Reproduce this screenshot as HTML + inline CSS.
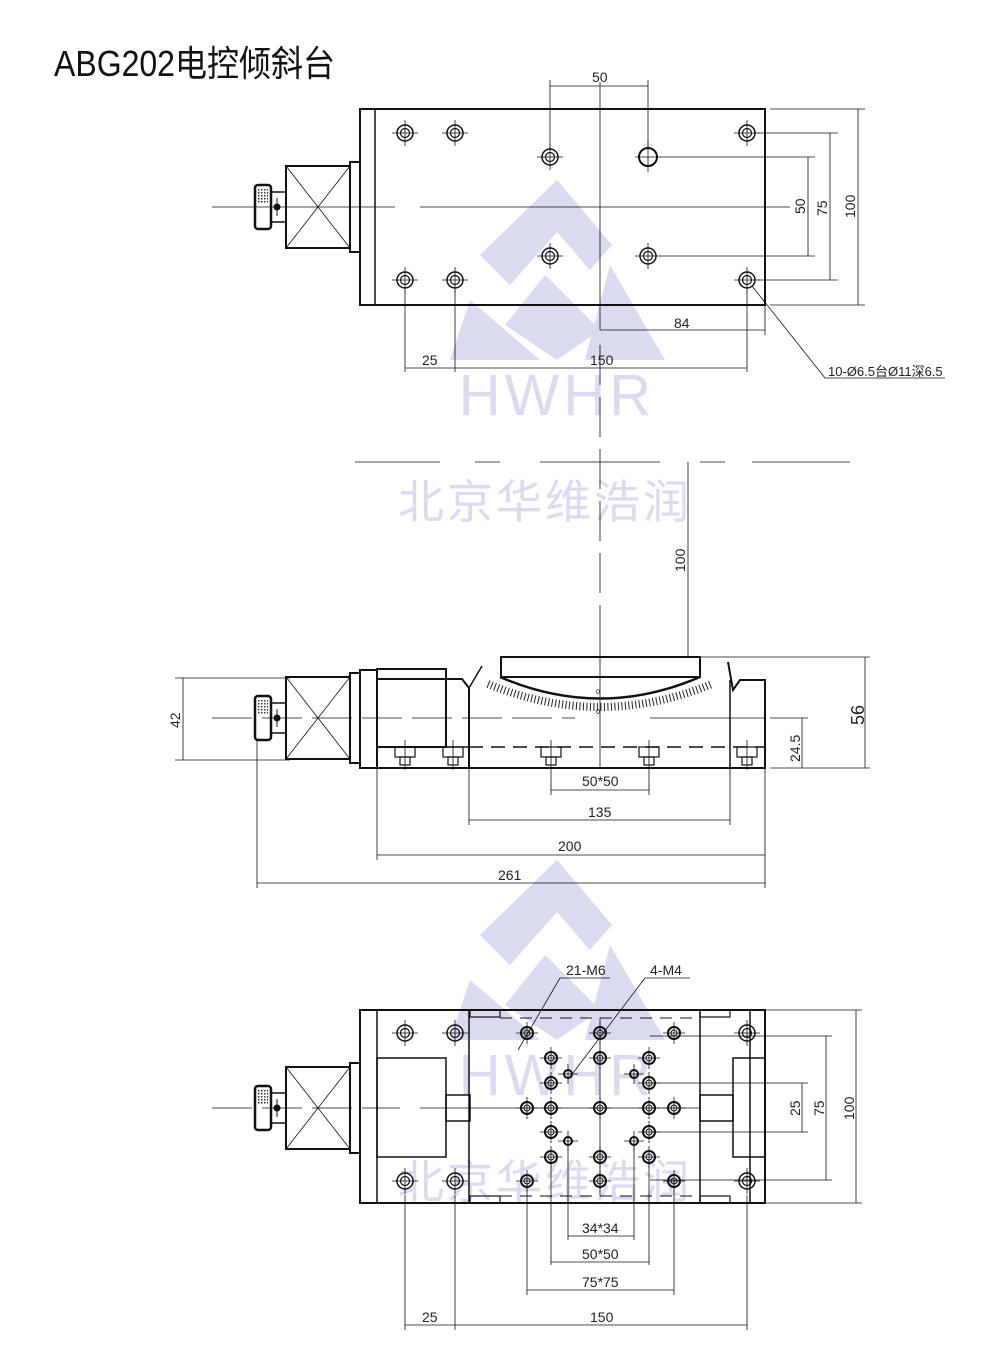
<!DOCTYPE html>
<html><head><meta charset="utf-8"><style>
html,body{margin:0;padding:0;background:#fff}
svg{display:block}
text{font-family:"Liberation Sans","Noto Sans CJK SC",sans-serif}
.d{font-family:"Liberation Sans Narrow","Liberation Sans",sans-serif;font-size:14px;fill:#222}
</style></head><body>
<svg width="1000" height="1352" viewBox="0 0 1000 1352" xmlns="http://www.w3.org/2000/svg">
<defs>
<pattern id="kn" width="3" height="3" patternUnits="userSpaceOnUse"><rect width="3" height="3" fill="#fff"/><rect width="1.5" height="1.5" fill="#333"/></pattern>
<g id="knob" stroke="#111" fill="none">
<rect x="255" y="-22" width="16" height="44" rx="3" stroke-width="2.5"/>
<rect x="258" y="-18" width="10" height="14" fill="url(#kn)" stroke="none"/>
<rect x="271" y="-15" width="15" height="30" stroke-width="1.5"/>
<circle cx="277" cy="0" r="3" fill="#111"/>
<line x1="277" y1="-9" x2="277" y2="9" stroke-width="1"/>
<rect x="286" y="-41" width="64" height="82" stroke-width="2"/>
<line x1="286" y1="-41" x2="350" y2="41" stroke-width="0.8"/>
<line x1="286" y1="41" x2="350" y2="-41" stroke-width="0.8"/>
<rect x="350" y="-45" width="10" height="90" stroke-width="2"/>
</g>
<g id="ch" stroke="#111" fill="none">
<circle r="8" stroke-width="1.5"/><circle r="4.5" stroke-width="1.2"/>
<line x1="-13" y1="0" x2="13" y2="0" stroke-width="0.8"/><line x1="0" y1="-13" x2="0" y2="13" stroke-width="0.8"/>
</g>
<g id="sh" stroke="#111" fill="none">
<circle r="6" stroke-width="2"/><circle r="3" stroke-width="1"/>
<line x1="-11" y1="0" x2="11" y2="0" stroke-width="0.8"/><line x1="0" y1="-11" x2="0" y2="11" stroke-width="0.8"/>
</g>
<g id="sm" stroke="#111" fill="none">
<circle r="4" stroke-width="2"/>
<line x1="-10" y1="0" x2="10" y2="0" stroke-width="0.8"/><line x1="0" y1="-10" x2="0" y2="10" stroke-width="0.8"/>
</g>
<g id="wm" fill="#dadaf0">
<polygon points="557,180 612,245 590,270 557,232 510,285 480,255"/>
<polygon points="545,275 600,330 557,360 505,325"/>
<polygon points="610,265 665,360 585,360"/>
<polygon points="470,300 540,360 450,360"/>
<text x="557" y="415" font-size="58" text-anchor="middle" fill="#dadaf0" letter-spacing="4">HWHR</text>
<text x="545" y="518" font-size="46" text-anchor="middle" fill="#dadaf0" letter-spacing="3">北京华维浩润</text>
</g>
</defs>

<text x="54" y="76" font-size="36" fill="#111" textLength="281" lengthAdjust="spacingAndGlyphs">ABG202电控倾斜台</text>

<use href="#wm"/>
<use href="#wm" transform="translate(0,680)"/>

<!-- TOP VIEW -->
<g stroke="#111" fill="none">
<rect x="360" y="109" width="405" height="196" stroke-width="2"/>
<line x1="375" y1="109" x2="375" y2="305" stroke-width="1.5"/>
<line x1="212" y1="207" x2="395" y2="207" stroke-width="0.8"/>
<line x1="420" y1="207" x2="790" y2="207" stroke-width="0.8"/>
<line x1="600" y1="82" x2="600" y2="330" stroke-width="0.8"/>
<line x1="600" y1="345" x2="600" y2="640" stroke-width="0.8" stroke-dasharray="40,12"/>
<g stroke-width="0.8">
<line x1="550" y1="80" x2="550" y2="150"/><line x1="648" y1="80" x2="648" y2="150"/><line x1="550" y1="86" x2="648" y2="86"/>
<line x1="770" y1="109" x2="865" y2="109"/><line x1="770" y1="305" x2="865" y2="305"/><line x1="858" y1="109" x2="858" y2="305"/>
<line x1="758" y1="133" x2="838" y2="133"/><line x1="758" y1="280" x2="838" y2="280"/><line x1="830" y1="133" x2="830" y2="280"/>
<line x1="660" y1="157" x2="815" y2="157"/><line x1="660" y1="256" x2="815" y2="256"/><line x1="808" y1="157" x2="808" y2="256"/>
<line x1="600" y1="330" x2="765" y2="330"/><line x1="765" y1="305" x2="765" y2="335"/>
<line x1="405" y1="290" x2="405" y2="372"/><line x1="455" y1="290" x2="455" y2="372"/><line x1="747" y1="290" x2="747" y2="372"/>
<line x1="405" y1="368" x2="747" y2="368"/>
<polyline points="752,286 825,378 945,378"/>
</g>
</g>
<use href="#knob" transform="translate(0,207)"/>
<g>
<use href="#ch" x="405" y="133"/><use href="#ch" x="455" y="133"/><use href="#ch" x="747" y="133"/>
<use href="#ch" x="405" y="280"/><use href="#ch" x="455" y="280"/><use href="#ch" x="747" y="280"/>
<use href="#ch" x="550" y="157"/><use href="#ch" x="550" y="256"/><use href="#ch" x="648" y="256"/>
<g stroke="#111" fill="none"><circle cx="648" cy="157" r="9" stroke-width="2"/><line x1="635" y1="157" x2="661" y2="157" stroke-width="0.8"/><line x1="648" y1="140" x2="648" y2="172" stroke-width="0.8"/></g>
</g>
<g class="d">
<text x="592" y="82">50</text>
<text x="674" y="328">84</text>
<text x="422" y="365">25</text>
<text x="590" y="365">150</text>
<text x="828" y="376" font-size="13">10-Ø6.5台Ø11深6.5</text>
<text transform="translate(805,214) rotate(-90)">50</text>
<text transform="translate(827,216) rotate(-90)">75</text>
<text transform="translate(855,218) rotate(-90)">100</text>
</g>

<g stroke="#111" stroke-width="0.8">
<line x1="355" y1="462" x2="440" y2="462"/><line x1="475" y1="462" x2="500" y2="462"/><line x1="540" y1="462" x2="660" y2="462"/>
<line x1="700" y1="462" x2="725" y2="462"/><line x1="752" y1="462" x2="850" y2="462"/>
<line x1="688" y1="462" x2="688" y2="657"/>
</g>
<text class="d" transform="translate(685,572) rotate(-90)">100</text>

<!-- MIDDLE VIEW -->
<g stroke="#111" fill="none">
<line x1="212" y1="718" x2="575" y2="718" stroke-width="0.8" stroke-dasharray="40,10"/>
<line x1="650" y1="718" x2="765" y2="718" stroke-width="0.8"/>
<polyline points="360,768 765,768 765,680 740,680 733,690 728,662" stroke-width="2"/>
<rect x="360" y="670" width="17" height="98" stroke-width="2"/>
<rect x="377" y="669" width="69" height="78" stroke-width="2"/>
<polyline points="377,679 462,679 469,688 469,768" stroke-width="2"/>
<line x1="469" y1="688" x2="482" y2="666" stroke-width="1.5"/>
<line x1="377" y1="747" x2="469" y2="747" stroke-width="1.5"/>
<line x1="469" y1="747" x2="765" y2="747" stroke-width="1.5" stroke-dasharray="14,8"/>
<line x1="730" y1="680" x2="730" y2="768" stroke-width="1.5"/>
<rect x="501" y="657" width="199" height="20" stroke-width="2"/>
<path d="M500,677 Q600,720 700,677" stroke-width="2.5"/>
<path d="M488,684 Q600,730 712,684" stroke-width="8" stroke-dasharray="1,2.5" stroke="#222"/>
<line x1="600" y1="640" x2="600" y2="768" stroke-width="0.8"/>
<g stroke-width="1.2">
<rect x="395" y="747" width="20" height="10"/><rect x="400" y="757" width="10" height="8"/>
<rect x="443" y="747" width="20" height="10"/><rect x="448" y="757" width="10" height="8"/>
<rect x="541" y="747" width="20" height="10"/><rect x="546" y="757" width="10" height="8"/>
<rect x="639" y="747" width="20" height="10"/><rect x="644" y="757" width="10" height="8"/>
<rect x="737" y="747" width="20" height="10"/><rect x="742" y="757" width="10" height="8"/>
</g>
<g stroke-width="0.8">
<line x1="405" y1="740" x2="405" y2="770"/><line x1="453" y1="740" x2="453" y2="770"/><line x1="551" y1="740" x2="551" y2="795"/><line x1="649" y1="740" x2="649" y2="795"/><line x1="747" y1="740" x2="747" y2="770"/>
<line x1="551" y1="790" x2="649" y2="790"/>
<line x1="469" y1="768" x2="469" y2="825"/><line x1="730" y1="768" x2="730" y2="825"/><line x1="469" y1="820" x2="730" y2="820"/>
<line x1="377" y1="768" x2="377" y2="860"/><line x1="765" y1="768" x2="765" y2="888"/><line x1="377" y1="855" x2="765" y2="855"/>
<line x1="257" y1="740" x2="257" y2="888"/><line x1="257" y1="883" x2="765" y2="883"/>
<line x1="175" y1="678" x2="290" y2="678"/><line x1="175" y1="760" x2="290" y2="760"/><line x1="183" y1="678" x2="183" y2="760"/>
<line x1="700" y1="657" x2="870" y2="657"/><line x1="770" y1="768" x2="870" y2="768"/><line x1="865" y1="657" x2="865" y2="768"/>
<line x1="770" y1="718" x2="808" y2="718"/><line x1="802" y1="718" x2="802" y2="768"/>
</g>
</g>
<use href="#knob" transform="translate(0,718)"/>
<g class="d">
<text x="596" y="694" font-size="7">0</text><text x="596" y="714" font-size="7">0</text>
<text x="582" y="786">50*50</text>
<text x="588" y="817">135</text>
<text x="558" y="851">200</text>
<text x="498" y="880">261</text>
<text transform="translate(180,728) rotate(-90)">42</text>
<text transform="translate(800,762) rotate(-90)">24.5</text>
<text transform="translate(864,725) rotate(-90)" font-size="18">56</text>
</g>

<!-- BOTTOM VIEW -->
<g stroke="#111" fill="none">
<rect x="360" y="1010" width="405" height="193" stroke-width="2"/>
<line x1="377" y1="1010" x2="377" y2="1203" stroke-width="1.5"/>
<line x1="469" y1="1010" x2="469" y2="1203" stroke-width="1.5"/>
<line x1="700" y1="1010" x2="700" y2="1203" stroke-width="1.5"/>
<line x1="750" y1="1010" x2="750" y2="1203" stroke-width="1.5"/>
<rect x="377" y="1058" width="69" height="99" stroke-width="1.5"/>
<rect x="446" y="1095" width="24" height="26" stroke-width="1.5"/>
<rect x="733" y="1058" width="32" height="99" stroke-width="1.5"/>
<rect x="700" y="1095" width="33" height="26" stroke-width="1.5"/>
<g stroke-width="1.2">
<rect x="470" y="1010" width="30" height="7"/><rect x="700" y="1010" width="30" height="7"/>
<rect x="470" y="1196" width="30" height="7"/><rect x="700" y="1196" width="30" height="7"/>
</g>
<line x1="500" y1="1018" x2="700" y2="1018" stroke-width="1" stroke-dasharray="12,8"/>
<line x1="500" y1="1196" x2="700" y2="1196" stroke-width="1" stroke-dasharray="12,8"/>
<line x1="212" y1="1108" x2="400" y2="1108" stroke-width="0.8" stroke-dasharray="40,10"/>
<line x1="420" y1="1108" x2="700" y2="1108" stroke-width="0.8"/>
<line x1="600" y1="1018" x2="600" y2="1196" stroke-width="0.8"/>
<g stroke-width="0.8">
<line x1="760" y1="1010" x2="862" y2="1010"/><line x1="760" y1="1203" x2="862" y2="1203"/><line x1="856" y1="1010" x2="856" y2="1203"/>
<line x1="650" y1="1036" x2="832" y2="1036"/><line x1="650" y1="1180" x2="832" y2="1180"/><line x1="826" y1="1036" x2="826" y2="1180"/>
<line x1="650" y1="1083" x2="808" y2="1083"/><line x1="650" y1="1132" x2="808" y2="1132"/><line x1="802" y1="1083" x2="802" y2="1132"/>
<line x1="568" y1="1140" x2="568" y2="1240"/><line x1="634" y1="1140" x2="634" y2="1240"/><line x1="568" y1="1236" x2="634" y2="1236"/>
<line x1="551" y1="1160" x2="551" y2="1265"/><line x1="649" y1="1160" x2="649" y2="1265"/><line x1="551" y1="1262" x2="649" y2="1262"/>
<line x1="527" y1="1180" x2="527" y2="1295"/><line x1="674" y1="1180" x2="674" y2="1295"/><line x1="527" y1="1290" x2="674" y2="1290"/>
<line x1="405" y1="1195" x2="405" y2="1330"/><line x1="455" y1="1195" x2="455" y2="1330"/><line x1="747" y1="1195" x2="747" y2="1330"/>
<line x1="405" y1="1325" x2="747" y2="1325"/>
<polyline points="518,1050 560,978 610,978"/>
<polyline points="573,1073 645,978 690,978"/>
</g>
</g>
<use href="#knob" transform="translate(0,1108)"/>
<g>
<use href="#ch" x="405" y="1033"/><use href="#ch" x="455" y="1033"/><use href="#ch" x="747" y="1033"/>
<use href="#ch" x="405" y="1181"/><use href="#ch" x="455" y="1181"/><use href="#ch" x="747" y="1181"/>
<use href="#sh" x="527" y="1033"/><use href="#sh" x="600" y="1033"/><use href="#sh" x="674" y="1033"/>
<use href="#sh" x="551" y="1058"/><use href="#sh" x="600" y="1058"/><use href="#sh" x="649" y="1058"/>
<use href="#sh" x="551" y="1083"/><use href="#sh" x="649" y="1083"/>
<use href="#sh" x="527" y="1108"/><use href="#sh" x="551" y="1108"/><use href="#sh" x="600" y="1108"/><use href="#sh" x="649" y="1108"/><use href="#sh" x="674" y="1108"/>
<use href="#sh" x="551" y="1132"/><use href="#sh" x="649" y="1132"/>
<use href="#sh" x="551" y="1157"/><use href="#sh" x="600" y="1157"/><use href="#sh" x="649" y="1157"/>
<use href="#sh" x="527" y="1181"/><use href="#sh" x="600" y="1181"/><use href="#sh" x="674" y="1181"/>
<use href="#sm" x="568" y="1074"/><use href="#sm" x="634" y="1074"/><use href="#sm" x="568" y="1141"/><use href="#sm" x="634" y="1141"/>
</g>
<g class="d">
<text x="566" y="975">21-M6</text>
<text x="650" y="975">4-M4</text>
<text x="582" y="1233">34*34</text>
<text x="582" y="1259">50*50</text>
<text x="582" y="1287">75*75</text>
<text x="422" y="1322">25</text>
<text x="590" y="1322">150</text>
<text transform="translate(800,1116) rotate(-90)">25</text>
<text transform="translate(824,1116) rotate(-90)">75</text>
<text transform="translate(854,1120) rotate(-90)">100</text>
</g>
</svg>
</body></html>
